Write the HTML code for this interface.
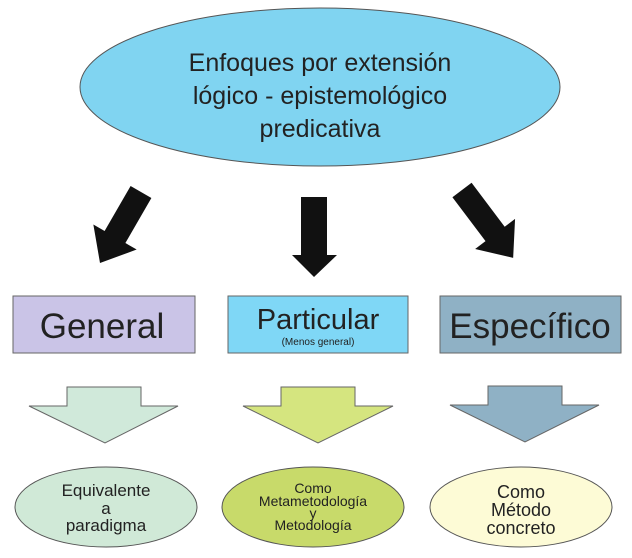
<!DOCTYPE html>
<html><head><meta charset="utf-8"><style>
body{margin:0;background:#fff}
svg{display:block}
text{font-family:"Liberation Sans",sans-serif;fill:#222;text-anchor:middle}
</style></head><body>
<svg width="632" height="558" viewBox="0 0 632 558">
<ellipse cx="320" cy="87" rx="240" ry="79" fill="#80d4f1" stroke="#555" stroke-width="1"/>
<text x="320" y="71" font-size="25">Enfoques por extensión</text>
<text x="320" y="104" font-size="25">lógico - epistemológico</text>
<text x="320" y="137" font-size="25">predicativa</text>
<!-- black arrows -->
<g transform="translate(141,192) rotate(30)">
<polygon points="-12,0 12,0 12,52 25,52 0,82 -25,52 -12,52" fill="#111"/>
</g>
<rect x="301" y="197" width="26" height="58" fill="#111"/>
<polygon points="292,255 337,255 314,277" fill="#111"/>
<g transform="translate(462,190) rotate(-37)">
<polygon points="-12,0 12,0 12,55 25,55 0,85 -25,55 -12,55" fill="#111"/>
</g>
<!-- boxes -->
<rect x="13" y="296" width="182" height="57" fill="#cac4e7" stroke="#666"/>
<text x="102" y="338" font-size="35">General</text>
<rect x="228" y="296" width="180" height="57" fill="#7fd7f6" stroke="#666"/>
<text x="318" y="329" font-size="29">Particular</text>
<text x="318" y="345" font-size="10">(Menos general)</text>
<rect x="440" y="296" width="181" height="57" fill="#8fb1c5" stroke="#666"/>
<text x="530" y="338" font-size="35">Específico</text>
<!-- hollow arrows -->
<polygon points="67,387 141,387 141,406 178,406 105,443 29,406 67,406" fill="#d0e9da" stroke="#666"/>
<polygon points="281,387 355,387 355,406 393,406 318,443 243,406 281,406" fill="#d5e57f" stroke="#666"/>
<polygon points="488,386 562,386 562,405 599,405 525,442 450,405 488,405" fill="#8fb1c5" stroke="#666"/>
<!-- ellipses -->
<ellipse cx="106" cy="507" rx="91" ry="40" fill="#d0e9d7" stroke="#555"/>
<text x="106" y="496" font-size="17">Equivalente</text>
<text x="106" y="514" font-size="17">a</text>
<text x="106" y="531" font-size="17">paradigma</text>
<ellipse cx="313" cy="507" rx="91" ry="40" fill="#c8da6a" stroke="#555"/>
<text x="313" y="493" font-size="14">Como</text>
<text x="313" y="506" font-size="14">Metametodología</text>
<text x="313" y="518" font-size="14">y</text>
<text x="313" y="530" font-size="14">Metodología</text>
<ellipse cx="521" cy="507" rx="91" ry="40" fill="#fdfbd6" stroke="#555"/>
<text x="521" y="498" font-size="18">Como</text>
<text x="521" y="516" font-size="18">Método</text>
<text x="521" y="534" font-size="18">concreto</text>
</svg>
</body></html>
